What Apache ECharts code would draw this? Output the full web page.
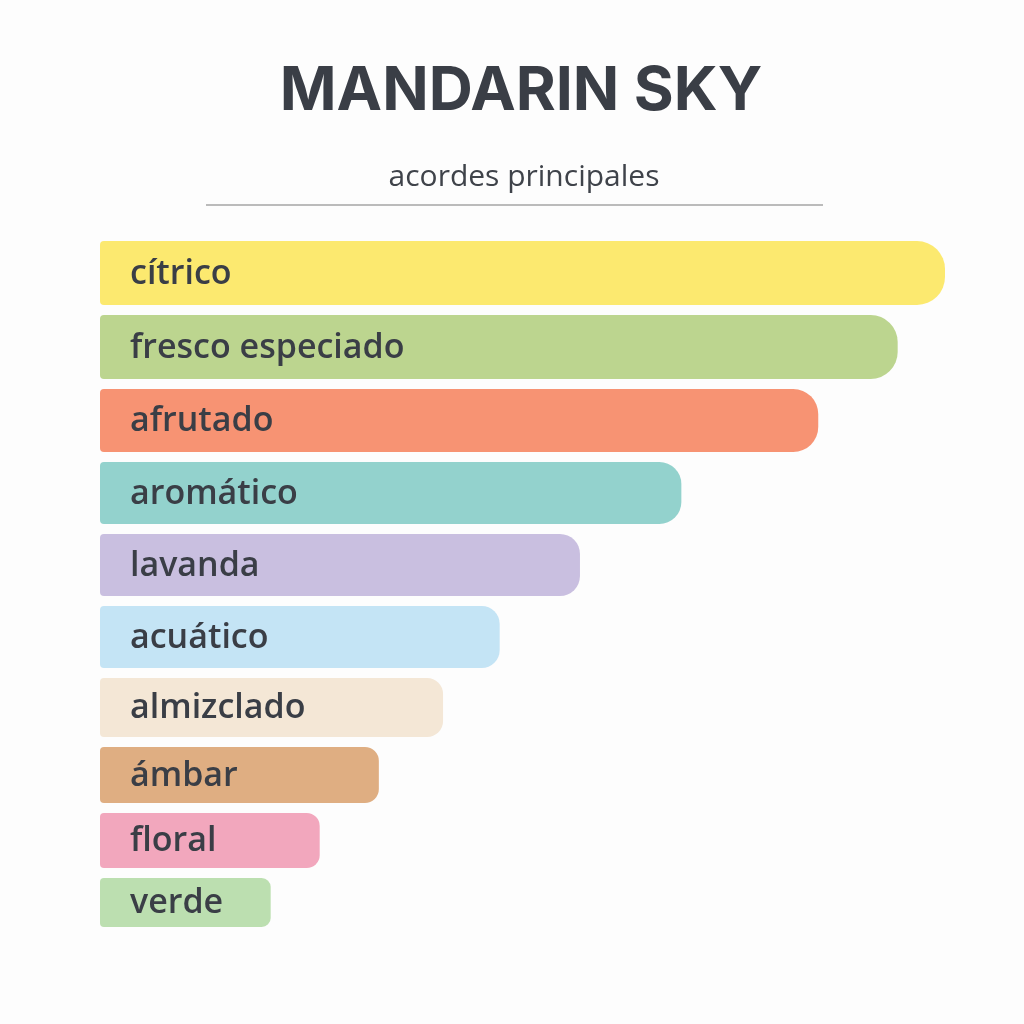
<!DOCTYPE html>
<html>
<head>
<meta charset="utf-8">
<script src="https://cdn.jsdelivr.net/npm/echarts@6/dist/echarts.min.js"></script>
<style>
  html, body { margin: 0; padding: 0; background: #fdfdfd; }
  #chart { width: 1024px; height: 1024px; }
</style>
</head>
<body>
<div id="chart"></div>
<script>
// accords, strongest first
var accords = ['cítrico', 'fresco especiado', 'afrutado', 'aromático', 'lavanda',
  'acuático', 'almizclado', 'ámbar', 'floral', 'verde'];
var strength = [100, 94.4, 85, 68.8, 56.8, 47.3, 40.6, 33, 26, 20.2];
var barColors = ['#fce96f', '#bcd58f', '#f79373', '#93d2cd', '#c9bfe0',
  '#c4e4f5', '#f4e7d6', '#dfae82', '#f2a7bd', '#bcdfb0'];

// drawing style: bar thickness and right-corner radius (px)
var thickness = [64, 64, 63, 62, 62, 62, 59, 56, 55, 49];
var radius = [28, 27, 25, 22, 20, 18, 16, 14, 13, 9];
var gap = 10;

var chartDom = document.getElementById('chart');
var myChart = echarts.init(chartDom);

var seriesData = strength.map(function (v, i) { return [v, i]; });

var option = {
  backgroundColor: '#fdfdfd',
  graphic: [
    {
      type: 'text',
      x: 521,
      y: 92,
      style: {
        text: 'MANDARIN SKY',
        fill: '#3a3e46',
        font: '700 61px Inter',
        align: 'center',
        verticalAlign: 'middle'
      }
    },
    {
      type: 'text',
      x: 524,
      y: 177,
      style: {
        text: 'acordes principales',
        fill: '#3f434a',
        font: '400 30px "Open Sans"',
        align: 'center',
        verticalAlign: 'middle'
      }
    },
    {
      type: 'line',
      shape: { x1: 206, y1: 205, x2: 823, y2: 205 },
      style: { stroke: '#7a7a7a', lineWidth: 1.2 }
    }
  ],
  grid: { left: 100, right: 79, top: 241, bottom: 98 },
  xAxis: { type: 'value', min: 0, max: 100, show: false },
  yAxis: { type: 'category', data: accords, inverse: true, show: false },
  series: [{
    type: 'custom',
    data: seriesData,
    renderItem: function (params, api) {
      var i = api.value(1);
      var x0 = api.coord([0, i])[0];
      var x1 = api.coord([api.value(0), i])[0];
      var top = params.coordSys.y;
      for (var k = 0; k < i; k++) top += thickness[k] + gap;
      var h = thickness[i];
      var r = radius[i];
      return {
        type: 'group',
        children: [
          {
            type: 'rect',
            shape: { x: x0, y: top, width: x1 - x0, height: h, r: [4, r, r, 4] },
            style: { fill: barColors[i] }
          },
          {
            type: 'text',
            style: {
              x: x0 + 30,
              y: top + h / 2 + 1,
              text: accords[i],
              fill: '#3a3e46',
              font: '600 34px "Open Sans"',
              verticalAlign: 'middle',
              align: 'left'
            }
          }
        ]
      };
    }
  }]
};

option && myChart.setOption(option);
</script>
</body>
</html>
